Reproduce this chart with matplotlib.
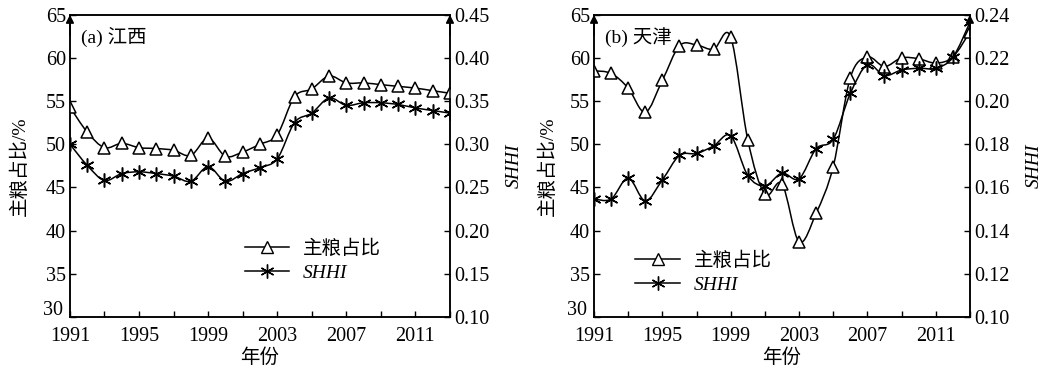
import matplotlib
import matplotlib.pyplot as plt
from matplotlib.path import Path
from matplotlib.patches import PathPatch
from matplotlib.lines import Line2D
from matplotlib.ticker import MultipleLocator, FixedLocator, FormatStrFormatter, FuncFormatter
import numpy as np

matplotlib.use('Agg')

FONT = ['Liberation Serif', 'Noto Sans CJK SC']
plt.rcParams['font.family'] = FONT

years = list(range(1991, 2014))
year_labels = [1991, 1995, 1999, 2003, 2007, 2011]

# (a) Jiangxi
jx_share = [54.3, 51.4, 49.6, 50.1, 49.6, 49.5, 49.3, 48.7, 50.7, 48.6, 49.1, 50.0,
            51.1, 55.5, 56.4, 57.9, 57.1, 57.1, 56.9, 56.7, 56.5, 56.2, 55.9]
jx_shhi = [0.300, 0.2755, 0.258, 0.266, 0.268, 0.266, 0.263, 0.257, 0.274, 0.257,
           0.266, 0.273, 0.283, 0.325, 0.336, 0.3535, 0.345, 0.348, 0.348, 0.346,
           0.342, 0.339, 0.336]

# (b) Tianjin
tj_share = [58.5, 58.2, 56.5, 53.7, 57.4, 61.4, 61.5, 61.0, 62.4, 50.5, 44.2, 45.4,
            38.7, 42.0, 47.4, 57.7, 60.1, 59.0, 60.0, 59.9, 59.4, 60.1, 63.0]
tj_shhi = [0.1546, 0.1546, 0.1643, 0.1538, 0.1635, 0.1748, 0.1757, 0.1792, 0.1839,
           0.1655, 0.1607, 0.1666, 0.1640, 0.1779, 0.1823, 0.2035, 0.2168, 0.2118,
           0.2144, 0.2152, 0.2152, 0.2202, 0.2364]

Y_MIN, Y_MAX = 30, 65
STAR = (6, 2, 0)


def smooth_line(ax, x, y):
    # draw a smoothed curve through the points (cubic Bezier pieces)
    p = np.column_stack([x, y]).astype(float)
    n = len(p)
    verts = [p[0]]
    codes = [Path.MOVETO]
    for i in range(n - 1):
        p0 = p[i - 1] if i > 0 else p[i]
        p3 = p[i + 2] if i + 2 < n else p[i + 1]
        c1 = p[i] + (p[i + 1] - p0) / 6.0
        c2 = p[i + 1] - (p3 - p[i]) / 6.0
        verts += [c1, c2, p[i + 1]]
        codes += [Path.CURVE4] * 3
    ax.add_patch(PathPatch(Path(verts, codes), fc='none', ec='k', lw=1.1, zorder=2))


def panel(ax, share, shhi, r_lim, r_step, title, leg_xy, lpad, rpad):
    ax2 = ax.twinx()
    smooth_line(ax, years, share)
    ax.plot(years, share, ls='none', marker='^', ms=9, mfc='white', mec='k', mew=1.1, zorder=3)
    smooth_line(ax2, years, shhi)
    ax2.plot(years, shhi, ls='none', marker=STAR, ms=10, mec='k', mew=1.1, zorder=3)

    ax.set_xlim(1991, 2013)
    ax.set_ylim(Y_MIN, Y_MAX)
    ax2.set_ylim(*r_lim)
    ax.xaxis.set_major_locator(FixedLocator(year_labels))
    ax.xaxis.set_minor_locator(FixedLocator(years[::2]))
    ax.yaxis.set_major_locator(MultipleLocator(5))
    # lowest label is drawn separately, a bit higher, as in the original
    ax.yaxis.set_major_formatter(FuncFormatter(lambda v, pos: '' if v <= Y_MIN else '%d' % v))
    ax2.yaxis.set_major_locator(MultipleLocator(r_step))
    ax2.yaxis.set_major_formatter(FormatStrFormatter('%.2f'))
    for a in (ax, ax2):
        a.tick_params(axis='both', which='both', direction='in', length=4, width=1,
                      labelsize=14.5, pad=3)
        for s in a.spines.values():
            s.set_linewidth(1.1)
    ax.tick_params(axis='x', which='minor', labelbottom=False)
    ax.tick_params(axis='x', pad=7)
    ax.annotate('%d' % Y_MIN, xy=(0, Y_MIN), xycoords=('axes fraction', 'data'),
                xytext=(-5, 4.5), textcoords='offset points', ha='right', va='center',
                fontsize=14.5, annotation_clip=False)

    ax.set_xlabel('年份', fontsize=14, labelpad=2)
    ax.set_ylabel('主粮占比/%', fontsize=14, labelpad=lpad)
    ax2.set_ylabel('SHHI', fontsize=14, style='italic', rotation=90, labelpad=rpad)
    ax.text(0.03, 0.96, title, transform=ax.transAxes, fontsize=14, va='top', ha='left')

    for xa in (0, 1):
        ax.annotate('', xy=(xa, 1.0), xytext=(xa, 0.93), xycoords='axes fraction',
                    arrowprops=dict(arrowstyle='-|>', color='k', lw=1.1,
                                    mutation_scale=12, shrinkA=0, shrinkB=0),
                    annotation_clip=False, zorder=5)

    h1 = Line2D([], [], color='k', lw=1.1, marker='^', ms=9, mfc='white', mec='k')
    h2 = Line2D([], [], color='k', lw=1.1, marker=STAR, ms=10, mec='k')
    leg = ax.legend([h1, h2], ['主粮占比', 'SHHI'], loc='upper left', bbox_to_anchor=leg_xy,
                    frameon=False, fontsize=14, handlelength=2.3, handletextpad=0.7,
                    labelspacing=0.3, borderpad=0, borderaxespad=0)
    leg.get_texts()[1].set_style('italic')
    return ax2


fig = plt.figure(figsize=(10.44, 3.68), dpi=100)
ax_a = fig.add_axes([0.067, 0.139, 0.364, 0.821])
ax_b = fig.add_axes([0.569, 0.139, 0.360, 0.821])

panel(ax_a, jx_share, jx_shhi, (0.10, 0.45), 0.05, '(a) 江西', (0.46, 0.255), 12, 12)
panel(ax_b, tj_share, tj_shhi, (0.10, 0.24), 0.02, '(b) 天津', (0.11, 0.215), 9, 12)

fig.savefig('out.png', dpi=100)
plt.close(fig)
